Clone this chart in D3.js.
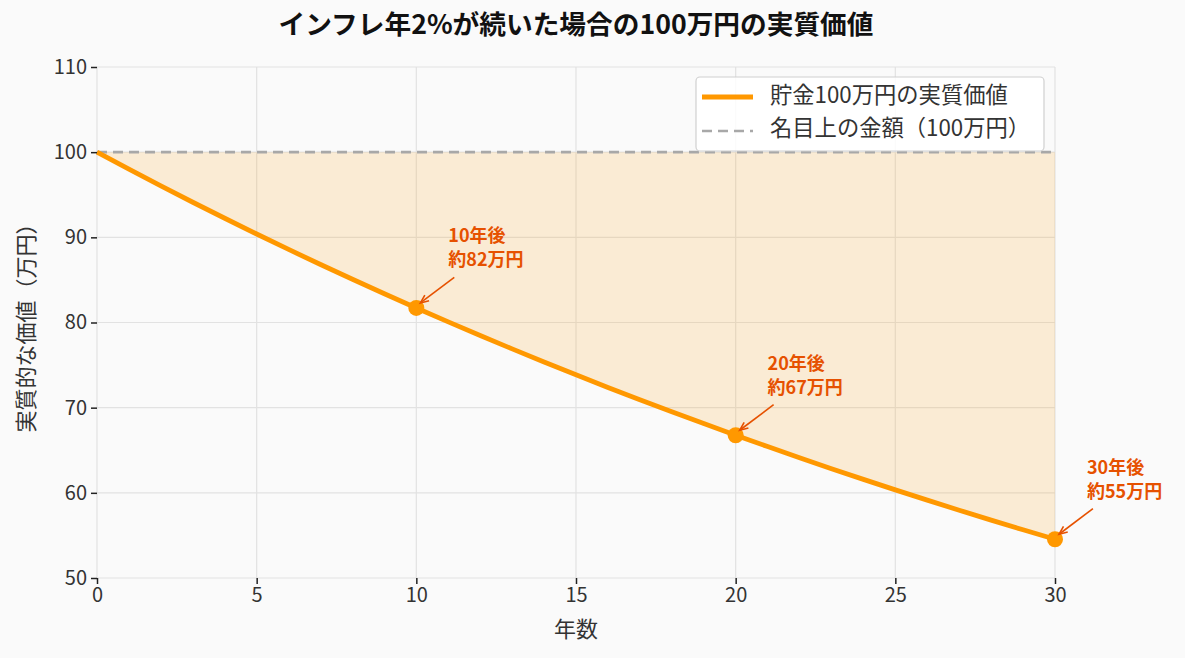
<!DOCTYPE html>
<html><head><meta charset="utf-8">
<script src="https://cdn.jsdelivr.net/npm/d3@7"></script>
<style>
body{margin:0;background:#fafafa;}
svg text{font-family:"Noto Sans CJK JP","Noto Sans",sans-serif;}
</style></head>
<body><svg id="c" width="1185" height="658"></svg>
<script>
const years = d3.range(0, 31);
const realValue = [100.00,98.00,96.04,94.12,92.24,90.39,88.58,86.81,85.08,83.37,81.71,80.07,78.47,76.90,75.36,73.86,72.38,70.93,69.51,68.13,66.76,65.43,64.12,62.83,61.58,60.35,59.14,57.96,56.80,55.66,54.55];
const nominal = 100;
const markYears = [10, 20, 30];
const markLabels = [["10年後","約82万円"],["20年後","約67万円"],["30年後","約55万円"]];
const xTicks = [0,5,10,15,20,25,30];
const yTicks = [50,60,70,80,90,100,110];
const title = "インフレ年2%が続いた場合の100万円の実質価値";
const xLabel = "年数";
const yLabel = "実質的な価値（万円）";
const legendLabels = ["貯金100万円の実質価値","名目上の金額（100万円）"];

const svg = d3.select("#c");
const L=97, R=1055, T=67, B=578;
const x = d3.scaleLinear().domain([0,30]).range([L,R]);
const y = d3.scaleLinear().domain([50,110]).range([B,T]);
const orange="#ff9800", annot="#e65100";

// grid
const g = svg.append("g");
g.selectAll(".gx").data(xTicks).join("line").attr("x1",d=>x(d)).attr("x2",d=>x(d)).attr("y1",T).attr("y2",B).attr("stroke","#e2e2e2").attr("stroke-width",1.2);
g.selectAll(".gy").data(yTicks).join("line").attr("y1",d=>y(d)).attr("y2",d=>y(d)).attr("x1",L).attr("x2",R).attr("stroke","#e2e2e2").attr("stroke-width",1.2);

// fill area
const data = years.map((t,i)=>({t, v:realValue[i]}));
svg.append("path").datum(data)
 .attr("d", d3.area().x(d=>x(d.t)).y0(y(nominal)).y1(d=>y(d.v)))
 .attr("fill", orange).attr("fill-opacity",0.15);

// nominal dashed
svg.append("line").attr("x1",x(0)).attr("x2",x(30)).attr("y1",y(nominal)).attr("y2",y(nominal))
 .attr("stroke","#a8a8a8").attr("stroke-width",2.6).attr("stroke-dasharray","10,6");

// line
svg.append("path").datum(data)
 .attr("d", d3.line().x(d=>x(d.t)).y(d=>y(d.v)))
 .attr("fill","none").attr("stroke",orange).attr("stroke-width",4.8).attr("stroke-linejoin","round");

// markers
svg.selectAll(".mk").data(markYears).join("circle")
 .attr("cx",d=>x(d)).attr("cy",d=>y(realValue[d])).attr("r",8).attr("fill",orange);

// annotations
markYears.forEach((t,i)=>{
  const v = realValue[t];
  const tx = x(t+1), ty = y(v+5);
  const ga = svg.append("g");
  ga.append("text").attr("x",tx).attr("y",ty-23).attr("fill",annot).attr("font-size",18).attr("font-weight","bold").text(markLabels[i][0]);
  ga.append("text").attr("x",tx).attr("y",ty+1).attr("fill",annot).attr("font-size",18).attr("font-weight","bold").text(markLabels[i][1]);
  const x1 = tx+6, y1 = ty+12, x2 = x(t)+4, y2 = y(v)-5;
  ga.append("line").attr("x1",x1).attr("y1",y1).attr("x2",x2).attr("y2",y2).attr("stroke",annot).attr("stroke-width",1.6);
  const ang = Math.atan2(y2-y1,x2-x1);
  const a1 = ang+Math.PI-0.4, a2 = ang+Math.PI+0.4, hl=9;
  ga.append("path").attr("d",`M${x2+hl*Math.cos(a1)},${y2+hl*Math.sin(a1)}L${x2},${y2}L${x2+hl*Math.cos(a2)},${y2+hl*Math.sin(a2)}`)
    .attr("fill","none").attr("stroke",annot).attr("stroke-width",1.6);
});

// axes
const xa = svg.append("g").attr("transform",`translate(0,${B})`).call(d3.axisBottom(x).tickValues(xTicks).tickSize(6).tickPadding(4));
const ya = svg.append("g").attr("transform",`translate(${L},0)`).call(d3.axisLeft(y).tickValues(yTicks).tickSize(6).tickPadding(4));
[xa,ya].forEach(a=>{a.select(".domain").remove();a.selectAll(".tick line").attr("stroke","#222").attr("stroke-width",1.5);a.selectAll("text").attr("font-size",20).attr("fill","#333").attr("font-family","'Noto Sans CJK JP',sans-serif");});

// labels
svg.append("text").attr("x",(L+R)/2).attr("y",27).attr("text-anchor","middle").attr("dominant-baseline","middle").attr("font-size",26.7).attr("font-weight","bold").attr("fill","#111").text(title);
svg.append("text").attr("x",(L+R)/2).attr("y",631).attr("text-anchor","middle").attr("dominant-baseline","middle").attr("font-size",22).attr("fill","#333").text(xLabel);
svg.append("text").attr("transform",`translate(28,${(T+B)/2}) rotate(-90)`).attr("text-anchor","middle").attr("dominant-baseline","middle").attr("font-size",22).attr("fill","#333").text(yLabel);

// legend
const lg = svg.append("g");
lg.append("rect").attr("x",696).attr("y",77).attr("width",348).attr("height",74).attr("rx",4).attr("fill","#fff").attr("fill-opacity",0.85).attr("stroke","#d0d0d0").attr("stroke-width",1.2);
lg.append("line").attr("x1",702).attr("x2",753).attr("y1",97).attr("y2",97).attr("stroke",orange).attr("stroke-width",4.8);
lg.append("line").attr("x1",702).attr("x2",753).attr("y1",131).attr("y2",131).attr("stroke","#a8a8a8").attr("stroke-width",2.6).attr("stroke-dasharray","10,6");
legendLabels.forEach((s,i)=>lg.append("text").attr("x",770).attr("y",97+i*33).attr("dominant-baseline","middle").attr("font-size",22.3).attr("fill","#333").text(s));
</script></body></html>
